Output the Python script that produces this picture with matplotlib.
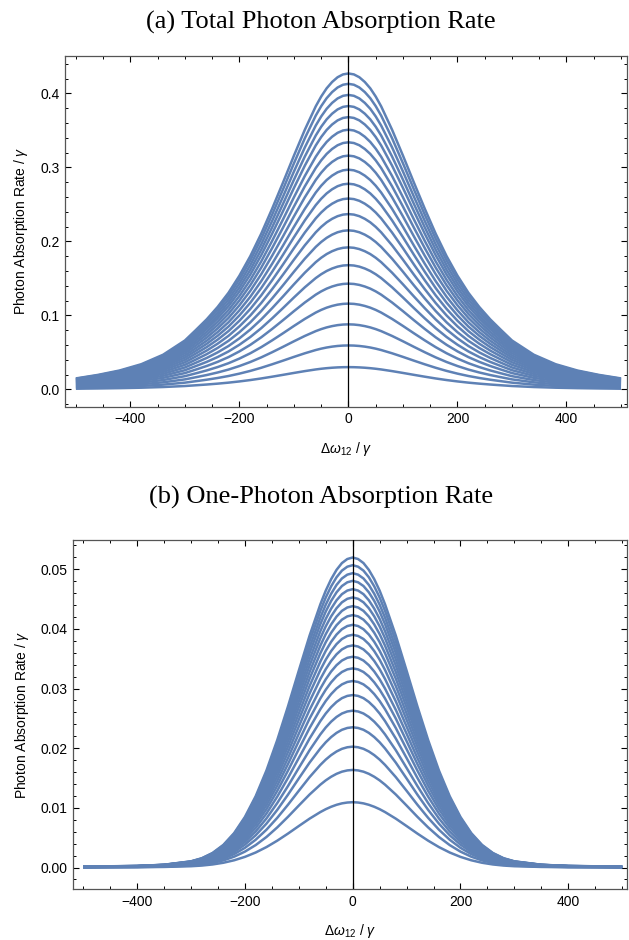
import numpy as np
import matplotlib
matplotlib.use('Agg')
import matplotlib.pyplot as plt
from matplotlib.ticker import MultipleLocator, FormatStrFormatter

plt.rcParams['font.family'] = ['Liberation Sans', 'DejaVu Sans']
plt.rcParams['mathtext.fontset'] = 'custom'
plt.rcParams['mathtext.rm'] = 'Liberation Sans'
plt.rcParams['mathtext.it'] = 'Liberation Sans:italic'

# detuning sample points (one half, curves are symmetric about 0)
detuning_a = [0, 10, 20, 30, 40, 50, 60, 80, 100, 120, 140, 160, 180, 200, 220, 240, 260, 280, 300,
              340, 380, 420, 460, 500]
# shape of the curves in (a), relative to each peak
profile_a = [1.0, 0.997, 0.988, 0.973, 0.953, 0.927, 0.896, 0.822, 0.740, 0.655, 0.572, 0.493,
             0.422, 0.360, 0.306, 0.261, 0.222, 0.188, 0.155, 0.110, 0.080, 0.060, 0.046, 0.035]
peaks_a = [0.0302, 0.0595, 0.088, 0.116, 0.143, 0.168, 0.192, 0.215, 0.237, 0.258,
           0.278, 0.297, 0.316, 0.334, 0.351, 0.368, 0.383, 0.398, 0.413, 0.427]

detuning_b = [0, 10, 20, 30, 40, 50, 60, 80, 100, 120, 140, 160, 180, 200, 220, 240, 260, 280, 300,
              350, 400, 450, 500]
profile_b = [1.0, 0.995, 0.982, 0.960, 0.930, 0.893, 0.849, 0.748, 0.635, 0.520, 0.411, 0.313,
             0.230, 0.163, 0.111, 0.073, 0.047, 0.030, 0.020, 0.009, 0.005, 0.004, 0.003]
peaks_b = [0.01095, 0.01636, 0.02026, 0.02351, 0.02629, 0.02891, 0.03126, 0.03338, 0.03533, 0.03723,
           0.03901, 0.04068, 0.04231, 0.04381, 0.04527, 0.04666, 0.04805, 0.04934, 0.05068, 0.05197]

line_color = '#5E81B5'
spine_color = '#555555'


def full_curve(xs, prof):
    xs = np.array(xs, dtype=float)
    prof = np.array(prof, dtype=float)
    x = np.concatenate([-xs[:0:-1], xs])
    y = np.concatenate([prof[:0:-1], prof])
    return x, y


def style_axes(ax, ymajor, yminor):
    ax.xaxis.set_major_locator(MultipleLocator(200))
    ax.xaxis.set_minor_locator(MultipleLocator(50))
    ax.yaxis.set_major_locator(MultipleLocator(ymajor))
    ax.yaxis.set_minor_locator(MultipleLocator(yminor))
    ax.tick_params(which='both', direction='in', top=True, right=True, labelsize=10,
                   color='black', pad=4)
    ax.tick_params(which='major', length=4.5, width=0.8)
    ax.tick_params(which='minor', length=2.5, width=0.7)
    ax.tick_params(axis='x', labeltop=False)
    ax.tick_params(axis='y', labelright=False)
    for s in ax.spines.values():
        s.set_color(spine_color)
        s.set_linewidth(0.9)
    ax.axvline(0, color='black', lw=0.9, zorder=5)
    ax.set_xlabel(r'$\Delta\omega_{12}$ / $\gamma$', fontsize=10, labelpad=10)
    ax.set_ylabel(r'Photon Absorption Rate / $\gamma$', fontsize=10, labelpad=7)


fig = plt.figure(figsize=(6.29, 9.40), dpi=100)

ax1 = fig.add_axes([65 / 629, 1 - 406.5 / 940, (627 - 65) / 629, (406.5 - 56) / 940])
x, prof = full_curve(detuning_a, profile_a)
for p in peaks_a:
    ax1.plot(x, p * prof, color=line_color, lw=1.8, solid_capstyle='butt', solid_joinstyle='round')
ax1.set_xlim(-520, 511)
ax1.set_ylim(-0.023, 0.4506)
ax1.yaxis.set_major_formatter(FormatStrFormatter('%.1f'))
style_axes(ax1, 0.1, 0.02)

ax2 = fig.add_axes([73 / 629, 1 - 889 / 940, (627 - 73) / 629, (889 - 540) / 940])
x, prof = full_curve(detuning_b, profile_b)
for p in peaks_b:
    ax2.plot(x, p * prof, color=line_color, lw=1.8, solid_capstyle='butt', solid_joinstyle='round')
ax2.set_xlim(-519, 509)
ax2.set_ylim(-0.0036, 0.0549)
ax2.yaxis.set_major_formatter(FormatStrFormatter('%.2f'))
style_axes(ax2, 0.01, 0.002)

fig.text(0.51, 1 - 22 / 940, '(a) Total Photon Absorption Rate', ha='center', va='center',
         fontsize=19, family='Liberation Serif')
fig.text(0.51, 1 - 497 / 940, '(b) One-Photon Absorption Rate', ha='center', va='center',
         fontsize=19, family='Liberation Serif')

fig.savefig('out.png', dpi=100)
